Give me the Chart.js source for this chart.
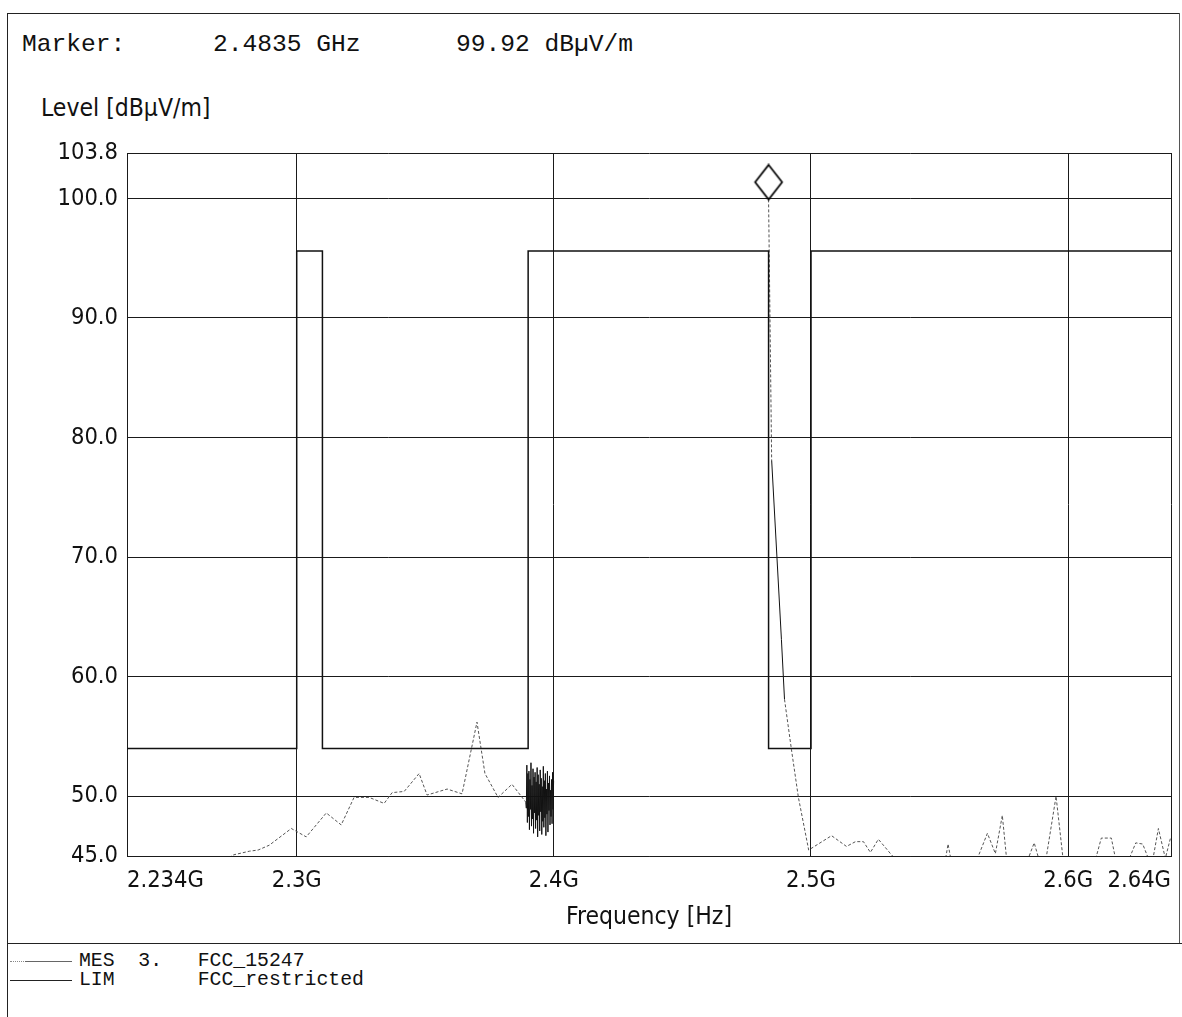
<!DOCTYPE html>
<html>
<head>
<meta charset="utf-8">
<script src="https://cdn.jsdelivr.net/npm/chart.js@4.4.1/dist/chart.umd.min.js"></script>
<style>
  html, body { margin: 0; padding: 0; background: #fff; }
  body { width: 1182px; height: 1017px; position: relative; overflow: hidden; }
  #plot { position: absolute; left: 0; top: 0; }
  .mono { position: absolute; font-family: 'Liberation Mono', 'Courier New', monospace; white-space: pre; color: #111; line-height: 1; }
  .head { font-size: 24.6px; top: 33px; }
  .leg { font-size: 19.8px; left: 79px; }
  .sans { position: absolute; font-family: 'DejaVu Sans Condensed', 'DejaVu Sans', sans-serif; font-size: 24.5px; line-height: 1; color: #111; white-space: pre; }
  .rule { position: absolute; background: #222; }
</style>
</head>
<body>
<div class="rule" style="left:7px; top:13px; width:1px; height:1004px;"></div>
<div class="rule" style="left:7px; top:13px; width:1173px; height:1px;"></div>
<div class="rule" style="left:1179px; top:13px; width:1px; height:930px; background:#555;"></div>
<div class="rule" style="left:7px; top:943px; width:1175px; height:1px;"></div>

<div class="mono head" style="left:22px;">Marker:</div>
<div class="mono head" id="mkFreq" style="left:213px;"></div>
<div class="mono head" id="mkLevel" style="left:456px;"></div>
<div class="sans" style="left:41px; top:96px;">Level [dBµV/m]</div>

<canvas id="plot" width="1182" height="940"></canvas>

<div class="rule" style="left:10px; top:961px; width:14px; height:0; background:none; border-top:1px dotted #888;"></div>
<div class="rule" style="left:25px; top:961px; width:47px; height:1px; background:#666;"></div>
<div class="rule" style="left:10px; top:980px; width:62px; height:1px; background:#222;"></div>
<div class="mono leg" id="legMes" style="top:952px;"></div>
<div class="mono leg" id="legLim" style="top:971px;"></div>

<script>
const X_TICKS = [2.234, 2.3, 2.4, 2.5, 2.6, 2.64];
const Y_TICKS = [45, 50, 60, 70, 80, 90, 100, 103.8];

const MARKER_FREQ = 2.4835;
const MARKER_LEVEL = 99.92;

// limit line FCC_restricted (GHz / dBuV/m)
const LIM_FREQ = [2.234, 2.3, 2.3, 2.31, 2.31, 2.39, 2.39, 2.4835, 2.4835, 2.5, 2.5, 2.64];
const LIM_LEVEL = [54, 54, 95.6, 95.6, 54, 54, 95.6, 95.6, 54, 54, 95.6, 95.6];

// measured trace MES 3. FCC_15247
const MES_FREQ = [
  2.234, 2.255, 2.270, 2.2755, 2.2816, 2.2850, 2.2893, 2.2979, 2.3037, 2.3115,
  2.3173, 2.3223, 2.3282, 2.3340, 2.3371, 2.3418, 2.3476, 2.3507, 2.3585, 2.3643,
  2.3701, 2.3732, 2.3783, 2.3837, 2.3891,
  2.3893, 2.3895, 2.3897, 2.3899, 2.3901, 2.3903, 2.3905, 2.3907, 2.3909, 2.3911,
  2.3913, 2.3915, 2.3917, 2.3919, 2.3921, 2.3923, 2.3925, 2.3927, 2.3929, 2.3931,
  2.3933, 2.3935, 2.3937, 2.3939, 2.3941, 2.3943, 2.3945, 2.3947, 2.3949, 2.3951,
  2.3953, 2.3955, 2.3957, 2.3959, 2.3961, 2.3963, 2.3965, 2.3967, 2.3969, 2.3971,
  2.3973, 2.3975, 2.3977, 2.3979, 2.3981, 2.3983, 2.3985, 2.3987, 2.3989, 2.3991,
  2.3993, 2.3995, 2.3997, 2.3999,
  2.4500,
  2.4835, 2.4847, 2.4885, 2.4897, 2.4924, 2.4951, 2.4991, 2.5080, 2.5138, 2.5173,
  2.5204, 2.5231, 2.5262, 2.5313, 2.5340, 2.5420, 2.5522, 2.5533, 2.5545, 2.5630,
  2.5651, 2.5686, 2.5717, 2.5744, 2.5760, 2.5845, 2.5868, 2.5884, 2.5915, 2.5953,
  2.5980, 2.6080, 2.6110, 2.6129, 2.6168, 2.6183, 2.6240, 2.6263, 2.6290, 2.6310,
  2.6331, 2.6351, 2.6378, 2.6398
];
const MES_LEVEL = [
  43.0, 43.6, 44.4, 45.1, 45.4, 45.5, 45.9, 47.3, 46.6, 48.6,
  47.6, 49.9, 49.9, 49.4, 50.3, 50.4, 51.9, 50.1, 50.6, 50.2,
  56.2, 51.9, 49.9, 51.0, 49.5,
  49.0, 52.6, 47.8, 51.9, 48.3, 52.1, 47.2, 51.4, 48.9, 52.8,
  47.5, 50.9, 48.1, 52.3, 46.9, 51.6, 48.6, 52.0, 47.3, 51.2,
  48.0, 52.4, 46.6, 51.8, 48.4, 51.0, 47.1, 52.2, 48.7, 51.5,
  46.8, 50.8, 47.9, 52.5, 47.4, 51.3, 48.2, 51.9, 46.7, 50.6,
  48.5, 52.1, 47.0, 51.1, 48.8, 51.7, 47.6, 50.5, 48.3, 51.4,
  47.7, 52.0, 48.9, 51.3,
  null,
  99.92, 78.1, 63.1, 58.1, 53.9, 49.9, 45.5, 46.7, 45.8, 46.2,
  46.2, 45.3, 46.4, 45.1, 44.5, 44.2, 44.6, 46.0, 44.6, 44.3,
  45.0, 46.9, 45.2, 48.4, 44.9, 44.8, 46.1, 44.9, 44.9, 50.0,
  44.8, 44.4, 45.0, 46.5, 46.5, 44.9, 44.9, 46.1, 46.0, 44.9,
  44.9, 47.3, 44.8, 46.5
];

// stretches of the trace that print as a dark solid line
const SOLID_RANGES = [[2.389, 2.4], [2.4847, 2.4897]];

document.getElementById('mkFreq').textContent = MARKER_FREQ + ' GHz';
document.getElementById('mkLevel').textContent = MARKER_LEVEL.toFixed(2) + ' dBµV/m';
document.getElementById('legMes').textContent = 'MES  3.   FCC_15247';
document.getElementById('legLim').textContent = 'LIM       FCC_restricted';

const limitData = LIM_FREQ.map((f, i) => ({ x: f, y: LIM_LEVEL[i] }));
const mesData = MES_FREQ.map((f, i) => ({ x: f, y: MES_LEVEL[i] }));

const isSolid = ctx => SOLID_RANGES.some(r => ctx.p0.parsed.x >= r[0] && ctx.p1.parsed.x <= r[1]);

// marker diamond, bottom tip on the data point
const diamond = document.createElement('canvas');
diamond.width = 32;
diamond.height = 72;
const dc = diamond.getContext('2d');
dc.strokeStyle = '#000';
dc.lineWidth = 1.7;
dc.beginPath();
dc.moveTo(16, 1.5);
dc.lineTo(29.5, 18.7);
dc.lineTo(16, 36);
dc.lineTo(2.5, 18.7);
dc.closePath();
dc.stroke();

const tickFont = { family: "'DejaVu Sans Condensed', 'DejaVu Sans', sans-serif", size: 23.5 };
const titleFont = { family: "'DejaVu Sans Condensed', 'DejaVu Sans', sans-serif", size: 24.5 };

new Chart(document.getElementById('plot'), {
  type: 'line',
  data: {
    datasets: [
      { label: 'MES 3. FCC_15247', data: mesData, borderColor: '#555', borderWidth: 1, borderDash: [3, 2],
        pointRadius: 0, tension: 0, spanGaps: false, order: 2,
        segment: {
          borderDash: ctx => isSolid(ctx) ? [] : undefined,
          borderColor: ctx => isSolid(ctx) ? '#111' : undefined
        } },
      { label: 'LIM FCC_restricted', data: limitData, borderColor: '#111', borderWidth: 1.5,
        pointRadius: 0, tension: 0, order: 1 },
      { label: 'Marker', data: [{ x: MARKER_FREQ, y: MARKER_LEVEL }], showLine: false,
        pointStyle: diamond, pointRadius: 6, order: 0 }
    ]
  },
  options: {
    responsive: false,
    animation: false,
    events: [],
    layout: { padding: { top: 153, right: 9, bottom: 0, left: 0 } },
    plugins: { legend: { display: false }, tooltip: { enabled: false } },
    scales: {
      x: {
        type: 'linear',
        min: 2.234,
        max: 2.64,
        afterBuildTicks: s => { s.ticks = X_TICKS.map(v => ({ value: v })); },
        afterFit: s => { s.height = 84; },
        grid: { color: '#1a1a1a', lineWidth: 1, drawTicks: false },
        border: { color: '#1a1a1a' },
        ticks: { align: 'inner', padding: 11, autoSkip: false, maxRotation: 0, color: '#111', font: tickFont,
                 callback: v => v + 'G' },
        title: { display: true, text: 'Frequency [Hz]', color: '#111', font: titleFont, padding: { top: 4, bottom: 8 } }
      },
      y: {
        min: 45,
        max: 103.8,
        afterBuildTicks: s => { s.ticks = Y_TICKS.map(v => ({ value: v })); },
        afterFit: s => { s.width = 127; },
        grid: { color: '#1a1a1a', lineWidth: 1, drawTicks: false },
        border: { color: '#1a1a1a' },
        ticks: { padding: 9, color: '#111', font: tickFont, callback: v => Number(v).toFixed(1) }
      }
    }
  }
});
</script>
</body>
</html>
